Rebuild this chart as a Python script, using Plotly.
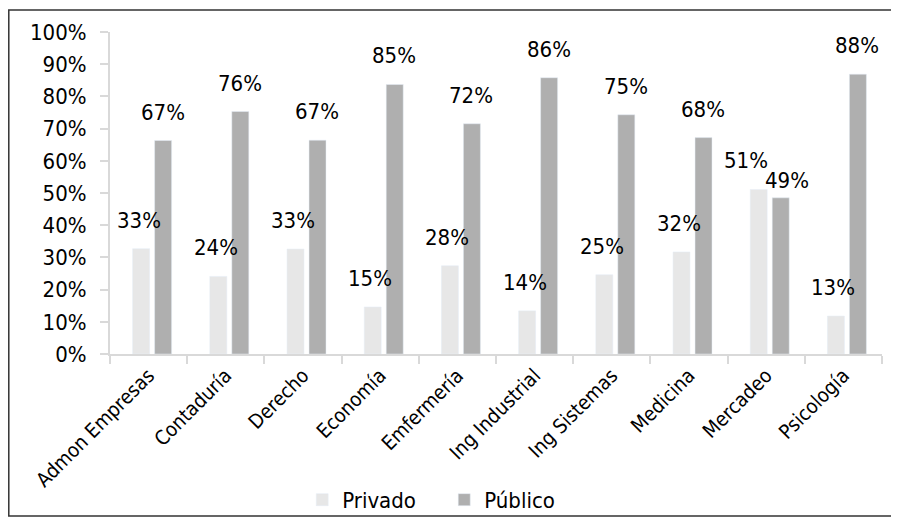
import plotly.graph_objects as go

categories = ["Admon Empresas", "Contaduría", "Derecho", "Economía", "Emfermería",
              "Ing Industrial", "Ing Sistemas", "Medicina", "Mercadeo", "Psicología"]
privado = [0.327, 0.241, 0.326, 0.146, 0.274, 0.134, 0.246, 0.317, 0.511, 0.118]
publico = [0.663, 0.753, 0.664, 0.837, 0.715, 0.858, 0.743, 0.672, 0.485, 0.869]
privado_labels = ["33%", "24%", "33%", "15%", "28%", "14%", "25%", "32%", "51%", "13%"]
publico_labels = ["67%", "76%", "67%", "85%", "72%", "86%", "75%", "68%", "49%", "88%"]

FONT = "DejaVu Sans Condensed, Liberation Sans, sans-serif"
FS = 22
C_PRIV = "#e7e7e7"
C_PUB = "#afafaf"
AXIS = "#d9d9d9"

fig = go.Figure()
fig.add_trace(go.Bar(name="Privado", x=categories, y=privado, marker_color=C_PRIV,
                     offset=-0.207, width=0.22))
fig.add_trace(go.Bar(name="Público", x=categories, y=publico, marker_color=C_PUB,
                     offset=0.078, width=0.22))

# label nudges (px) for overlapping labels: (series, index) -> (dx, dy)
nudges = {("priv", 8): (-10, 0), ("pub", 8): (7, -11)}

annotations = []
for i, c in enumerate(categories):
    for key, vals, labs, dx in (("priv", privado, privado_labels, -10),
                                ("pub", publico, publico_labels, 14)):
        ndx, ndy = nudges.get((key, i), (0, 0))
        annotations.append(dict(x=c, y=vals[i], xref="x", yref="y", text=labs[i],
                                showarrow=False, yanchor="bottom", xanchor="center",
                                xshift=dx + ndx, yshift=14 + ndy,
                                font=dict(family=FONT, size=FS, color="black")))

fig.update_layout(
    width=891, height=510,
    margin=dict(l=102, r=17, t=24, b=164, autoexpand=False),
    paper_bgcolor="white", plot_bgcolor="white",
    barmode="group",
    font=dict(family=FONT, size=FS, color="black"),
    showlegend=True,
    legend=dict(orientation="h", x=0.249, xanchor="left", y=-0.453, yanchor="middle",
                font=dict(family=FONT, size=FS, color="black"), itemwidth=30,
                entrywidth=97, entrywidthmode="pixels",
                bgcolor="rgba(0,0,0,0)"),
    annotations=annotations,
    shapes=[dict(type="rect", xref="paper", yref="paper",
                 x0=-0.1311, x1=1.0181, y0=-0.503, y1=1.0683,
                 line=dict(color="#333333", width=1.5), layer="above")],
)
fig.update_xaxes(type="category", showline=True, linecolor=AXIS, linewidth=2,
                 ticks="outside", tickson="boundaries", ticklen=8, tickcolor=AXIS,
                 tickwidth=2, tickangle=-45, showgrid=False, zeroline=False,
                 automargin=False,
                 tickfont=dict(family=FONT, size=20, color="black"))
fig.update_yaxes(range=[0, 1], dtick=0.1, tickformat=".0%", showline=True,
                 linecolor=AXIS, linewidth=2, ticks="outside", ticklen=8,
                 tickcolor=AXIS, tickwidth=2, showgrid=False, zeroline=False,
                 automargin=False, ticklabelstandoff=9,
                 tickfont=dict(family=FONT, size=FS, color="black"))

fig.write_html("out.html")
